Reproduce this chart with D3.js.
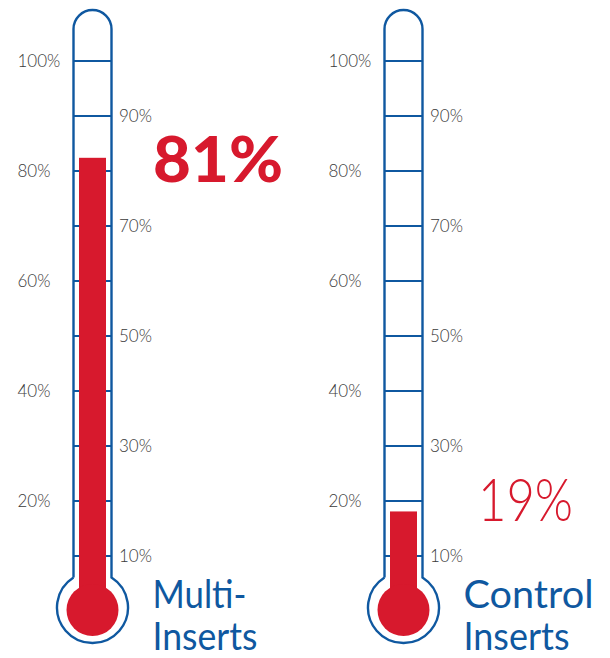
<!DOCTYPE html>
<html>
<head>
<meta charset="utf-8">
<script src="https://d3js.org/d3.v7.min.js"></script>
<style>
  body { margin: 0; background: #fff; }
  svg { display: block; font-family: Lato, "Open Sans", sans-serif; }
</style>
</head>
<body>
<div id="chart"></div>
<script>
// data
var groups = ["Multi-Inserts", "Control Inserts"];
var groupLines = [["Multi-", "Inserts"], ["Control", "Inserts"]];
var values = [81, 19];            // printed percentages
var fillLevels = [82.4, 18.1];    // where the red column actually stops
var leftTicks = [20, 40, 60, 80, 100];
var rightTicks = [10, 30, 50, 70, 90];
var gridTicks = [10, 20, 30, 40, 50, 60, 70, 80, 90, 100];

var W = 610, H = 658;
var blue = "#0f58a0", red = "#d7192d", grey = "#3a3a3a";

// widths the lettering takes up in the original (Futura is narrower than Lato)
var lineWidths = [[94, 105], [130, 106]];

var svg = d3.select("#chart").append("svg")
  .attr("width", W).attr("height", H);

var x = d3.scalePoint().domain(groups).range([92.5, 403.5]);
var y = d3.scaleLinear().domain([0, 100]).range([611, 61]);

var halfW = 19;        // half tube width
var bulbY = 607.5, bulbR = 35.5, redR = 26, redY = 610;
var capY = 29;

groups.forEach(function(g, i) {
  var cx = x(g);
  var gg = svg.append("g");

  // tick lines inside tube
  gg.selectAll("line.tick").data(gridTicks).enter().append("line")
    .attr("x1", cx - halfW).attr("x2", cx + halfW)
    .attr("y1", function(d) { return y(d); })
    .attr("y2", function(d) { return y(d); })
    .attr("stroke", blue).attr("stroke-width", 2.2);

  // outline: tube + bulb in one path
  var dy = Math.sqrt(bulbR * bulbR - halfW * halfW);
  var p = d3.path();
  p.moveTo(cx - halfW, bulbY - dy);
  p.lineTo(cx - halfW, capY);
  p.arc(cx, capY, halfW, Math.PI, 0);
  p.lineTo(cx + halfW, bulbY - dy);
  p.arc(cx, bulbY, bulbR, -Math.asin(dy / bulbR), Math.PI + Math.asin(dy / bulbR), false);
  gg.append("path").attr("d", p.toString())
    .attr("fill", "none").attr("stroke", blue).attr("stroke-width", 2.4);

  // red column and bulb
  gg.append("rect")
    .attr("x", cx - 13.5).attr("width", 27)
    .attr("y", y(fillLevels[i]))
    .attr("height", redY - y(fillLevels[i]))
    .attr("fill", red);
  gg.append("circle").attr("cx", cx).attr("cy", redY).attr("r", redR).attr("fill", red);

  // scale labels
  gg.selectAll("text.l").data(leftTicks).enter().append("text")
    .attr("x", cx - 75).attr("y", function(d) { return y(d); })
    .attr("dy", "0.35em")
    .attr("fill", grey).attr("font-size", 17).attr("font-weight", 300)
    .text(function(d) { return d + "%"; });
  gg.selectAll("text.r").data(rightTicks).enter().append("text")
    .attr("x", cx + 26.5).attr("y", function(d) { return y(d); })
    .attr("dy", "0.35em")
    .attr("fill", grey).attr("font-size", 17).attr("font-weight", 300)
    .text(function(d) { return d + "%"; });

  // big value
  var big = gg.append("text")
    .attr("fill", red)
    .text(values[i] + "%");
  if (i === 0) {
    big.attr("x", cx + 60.5).attr("y", 182).attr("font-size", 62).attr("font-weight", 900)
      .attr("textLength", 130).attr("lengthAdjust", "spacingAndGlyphs");
  } else {
    big.attr("x", cx + 74.5).attr("y", 521).attr("font-size", 60).attr("font-weight", 300)
      .attr("textLength", 95).attr("lengthAdjust", "spacingAndGlyphs");
  }

  // group name
  groupLines[i].forEach(function(line, j) {
    gg.append("text")
      .attr("x", cx + 60).attr("y", j === 0 ? 608 : 650)
      .attr("fill", blue).attr("font-size", 38)
      .attr("textLength", lineWidths[i][j]).attr("lengthAdjust", "spacingAndGlyphs")
      .text(line);
  });
});
</script>
</body>
</html>
